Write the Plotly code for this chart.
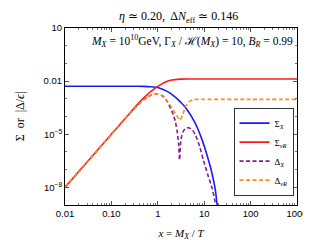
import plotly.graph_objects as go

# ---- data (log10 values) ----
x_sigX = [0.01, 0.03, 0.1, 0.3, 0.5, 0.7, 1.0, 1.3, 1.7, 2.2, 2.7, 3.2, 3.8, 4.5, 5.3, 6.3, 7.5, 9.0, 10.5, 12.0, 14.0, 16.2, 17.6, 18.8, 19.5]
l_sigX = [-2.29, -2.29, -2.29, -2.29, -2.30, -2.32, -2.36, -2.47, -2.62, -2.83, -3.03, -3.22, -3.44, -3.70, -3.99, -4.35, -4.78, -5.32, -5.84, -6.34, -6.98, -7.71, -8.25, -8.9, -9.3]

x_sigN = [0.01, 0.03, 0.1, 0.2, 0.3, 0.4, 0.5, 0.6, 0.7, 0.8, 1.0, 1.2, 1.5, 2.0, 3.0, 5.0, 10.0, 100.0, 1000.0]
l_sigN = [-8.0, -6.57, -5.0, -4.1, -3.57, -3.2, -2.95, -2.75, -2.6, -2.48, -2.3, -2.17, -2.04, -1.94, -1.89, -1.88, -1.88, -1.88, -1.88]

x_dX = [0.01, 0.03, 0.1, 0.2, 0.3, 0.4, 0.5, 0.6, 0.7, 0.85, 1.0, 1.3, 1.6, 2.0, 2.17, 2.4, 2.6, 2.8, 2.95, 3.1, 3.3, 3.6, 4.0, 4.6, 5.5, 6.5, 8.0, 9.6, 12.0, 15.0, 17.7, 19.0]
l_dX = [-8.0, -6.57, -5.0, -4.1, -3.6, -3.27, -3.05, -2.9, -2.8, -2.74, -2.74, -2.85, -3.15, -3.7, -3.9, -4.3, -4.8, -5.5, -6.46, -5.5, -5.05, -4.8, -4.68, -4.64, -4.75, -5.05, -5.7, -6.46, -7.3, -8.1, -9.0, -9.5]

x_dN = [0.01, 0.03, 0.1, 0.2, 0.3, 0.4, 0.5, 0.6, 0.7, 0.85, 1.0, 1.2, 1.65, 2.0, 2.5, 3.0, 3.5, 4.0, 5.0, 6.0, 7.0, 10.0, 100.0, 1000.0]
l_dN = [-8.0, -6.57, -5.0, -4.1, -3.6, -3.27, -3.05, -2.9, -2.8, -2.74, -2.74, -2.8, -3.18, -3.5, -3.9, -4.2, -3.85, -3.4, -3.12, -3.05, -3.03, -3.03, -3.03, -3.03]

names = ["Σ<sub><i>X</i></sub>", "Σ<sub><i>νR</i></sub>", "Δ<sub><i>X</i></sub>", "Δ<sub><i>νR</i></sub>"]
colors = ["#1a1aff", "#ff1a1a", "#8b1a8b", "#ff8c1a"]

xtick_vals = [0.01, 0.1, 1, 10, 100, 1000]
xtick_text = ["0.01", "0.10", "1", "10", "100", "1000"]
ytick_vals = [10, 0.01, 1e-5, 1e-8]
ytick_text = ["10", "0.01", "10<sup>−5</sup>", "10<sup>−8</sup>"]

series = [(x_sigX, l_sigX, "solid"), (x_sigN, l_sigN, "solid"), (x_dX, l_dX, "4px,2.5px"), (x_dN, l_dN, "4px,2.5px")]

fig = go.Figure()
for (xs, ls, dash), nm, col in zip(series, names, colors):
    fig.add_trace(go.Scatter(x=xs, y=[10 ** v for v in ls], mode="lines", name=nm,
                             line=dict(color=col, width=1.6, dash=dash, shape="spline", smoothing=0.5)))

xminor = [m * 10 ** e for e in range(-2, 3) for m in range(2, 10)]
yminor = [10 ** e for e in range(-9, 2)]

serif = "Liberation Serif, Times New Roman, serif"
axis_common = dict(showline=True, linecolor="black", linewidth=1, mirror="ticks", ticks="inside",
                   ticklen=4, tickcolor="#555", showgrid=False, zeroline=False,
                   tickfont=dict(family="Liberation Sans, Arial", size=9.5, color="black"))

fig.update_xaxes(type="log", range=[-2, 3], tickvals=xtick_vals, ticktext=xtick_text,
                 minor=dict(tickvals=xminor, ticklen=2, tickcolor="#777", ticks="inside"),
                 title=dict(text="<i>x</i> = <i>M<sub>X</sub></i> / <i>T</i>", standoff=10,
                            font=dict(family=serif, size=11, color="black")),
                 **axis_common)
fig.update_yaxes(type="log", range=[-9, 1], tickvals=ytick_vals, ticktext=ytick_text,
                 minor=dict(tickvals=yminor, ticklen=2, tickcolor="#777", ticks="inside"),
                 title=dict(text="Σ\u2002or\u2002|Δ/<i>ϵ</i>|", standoff=16,
                            font=dict(family=serif, size=12, color="black")),
                 **axis_common)

fig.update_layout(
    width=311, height=240,
    margin=dict(l=44, r=11, t=20, b=37),
    paper_bgcolor="white", plot_bgcolor="white",
    showlegend=True,
    legend=dict(x=0.985, y=0.55, xanchor="right", yanchor="top", bordercolor="#333", borderwidth=1,
                bgcolor="white", font=dict(family=serif, size=9, color="black"),
                itemwidth=30, tracegroupgap=0),
    annotations=[
        dict(text="<i>η</i> ≃ 0.20,  Δ<i>N</i><sub>eff</sub> ≃ 0.146", x=0.49, y=1.0, xref="paper", yref="paper",
             xanchor="center", yanchor="bottom", yshift=1, showarrow=False,
             font=dict(family=serif, size=12, color="black")),
        dict(text="<i>M<sub>X</sub></i> = 10<sup>10</sup>GeV, Γ<sub><i>X</i></sub> / ℋ(<i>M<sub>X</sub></i>) = 10, <i>B<sub>R</sub></i> = 0.99",
             x=0.99, y=0.985, xref="paper", yref="paper", xanchor="right", yanchor="top", showarrow=False,
             font=dict(family=serif, size=11.5, color="black")),
    ],
)

fig.write_html("out.html")
